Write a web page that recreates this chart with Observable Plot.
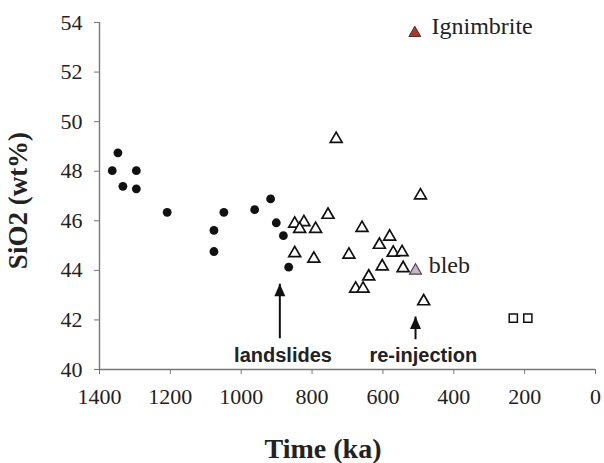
<!DOCTYPE html>
<html>
<head>
<meta charset="utf-8">
<script src="https://cdn.jsdelivr.net/npm/d3@7"></script>
<script src="https://cdn.jsdelivr.net/npm/@observablehq/plot@0.6"></script>
<style>body{margin:0;background:#fff;}</style>
</head>
<body>
<div id="chart"></div>
<script>
// Axis ticks
const xTicks = [1400, 1200, 1000, 800, 600, 400, 200, 0];
const yTicks = [40, 42, 44, 46, 48, 50, 52, 54];

// Filled circles
const circleAge  = [1364, 1348, 1334, 1296, 1296, 1209, 1077, 1077, 1049, 962, 917, 901, 881, 866];
const circleSiO2 = [48.02, 48.74, 47.39, 48.02, 47.29, 46.34, 45.61, 44.76, 46.34, 46.45, 46.88, 45.92, 45.40, 44.13];

// Open triangles
const triAge  = [732, 849, 823, 835, 790, 755, 849, 795, 494, 659, 581, 610, 571, 546, 696, 602, 543, 640, 677, 656, 485];
const triSiO2 = [49.30, 45.88, 45.94, 45.67, 45.67, 46.24, 44.69, 44.47, 47.02, 45.71, 45.36, 45.03, 44.71, 44.73, 44.63, 44.16, 44.09, 43.75, 43.26, 43.26, 42.75];

// Open squares
const squareAge  = [232, 191];
const squareSiO2 = [42.07, 42.07];

// Special samples
const blebAge = [508], blebSiO2 = [43.99];
const ignAge = [510], ignSiO2 = [53.57];

// Arrows
const arrowAge  = [891, 508];
const arrowFrom = [41.26, 41.22];
const arrowTo   = [43.46, 42.14];

// Annotation labels
const arrowLabels    = ["landslides", "re-injection"];
const arrowLabelAge  = [882, 486];
const arrowLabelSiO2 = [40.29, 40.29];
const sampleLabels    = ["bleb", "Ignimbrite"];
const sampleLabelAge  = [471, 463];
const sampleLabelSiO2 = [43.89, 53.54];

const SERIF = "'Liberation Serif', 'Times New Roman', Times, Tinos, serif";
const SANS = "'Liberation Sans', Arial, Helvetica, Arimo, sans-serif";

const zip = (xs, ys) => xs.map((x, i) => ({age: x, sio2: ys[i]}));
const circles = zip(circleAge, circleSiO2);
const tris = zip(triAge, triSiO2);
const squares = zip(squareAge, squareSiO2);
const bleb = zip(blebAge, blebSiO2);
const ign = zip(ignAge, ignSiO2);
const arrows = arrowAge.map((a, i) => ({age: a, from: arrowFrom[i], to: arrowTo[i]}));
const aLabels = arrowLabels.map((t, i) => ({label: t, age: arrowLabelAge[i], sio2: arrowLabelSiO2[i]}));
const sLabels = sampleLabels.map((t, i) => ({label: t, age: sampleLabelAge[i], sio2: sampleLabelSiO2[i]}));

const arrowHead = {
  draw(ctx) { ctx.moveTo(0, 0); ctx.lineTo(5.5, 12.5); ctx.lineTo(-5.5, 12.5); ctx.closePath(); }
};

const chart = Plot.plot({
  width: 604,
  height: 463,
  marginLeft: 99,
  marginRight: 9,
  marginTop: 22,
  marginBottom: 94,
  x: {domain: [1400, 0]},
  y: {domain: [40, 54]},
  style: {background: "white", color: "#222", fontFamily: SERIF, fontSize: "22px", overflow: "visible"},
  marks: [
    Plot.ruleY([40], {stroke: "#777", strokeWidth: 1.4}),
    Plot.ruleX([1400], {stroke: "#777", strokeWidth: 1.4}),
    Plot.axisX(xTicks, {tickSize: 5, tickPadding: 14, tickFormat: "d", stroke: "#777", label: null, fontSize: 22, fontFamily: SERIF}),
    Plot.axisY(yTicks, {tickSize: 5, tickPadding: 12, stroke: "#777", label: null, fontSize: 22, fontFamily: SERIF}),
    Plot.link(arrows, {x1: "age", x2: "age", y1: "from", y2: "to", stroke: "#111", strokeWidth: 2}),
    Plot.dot(arrows, {x: "age", y: "to", symbol: arrowHead, fill: "#111", stroke: "none", r: 5}),
    Plot.dot(circles, {x: "age", y: "sio2", r: 4.4, fill: "#111", stroke: "none"}),
    Plot.dot(tris, {x: "age", y: "sio2", symbol: "triangle", r: 4.4, fill: "white", stroke: "#111", strokeWidth: 1.7}),
    Plot.dot(squares, {x: "age", y: "sio2", symbol: "square", r: 4.6, fill: "white", stroke: "#111", strokeWidth: 1.5}),
    Plot.dot(bleb, {x: "age", y: "sio2", symbol: "triangle", r: 4.4, fill: "#c9b3cf", stroke: "#444", strokeWidth: 1.2}),
    Plot.dot(ign, {x: "age", y: "sio2", symbol: "triangle", r: 4.4, fill: "#b8322a", stroke: "#333", strokeWidth: 1}),
    Plot.text(aLabels, {x: "age", y: "sio2", text: "label", fontFamily: SANS, fontWeight: "bold", fontSize: 20, lineAnchor: "bottom", fill: "#222"}),
    Plot.text(sLabels, {x: "age", y: "sio2", text: "label", fontFamily: SERIF, fontSize: 24, textAnchor: "start", lineAnchor: "bottom", fill: "#222"}),
    Plot.text(["Time (ka)"], {frameAnchor: "bottom", textAnchor: "middle", dx: -24.5, dy: 88, text: d => d, fontFamily: SERIF, fontWeight: "bold", fontSize: 28, lineAnchor: "bottom", fill: "#222"}),
    Plot.text(["SiO2 (wt%)"], {frameAnchor: "left", textAnchor: "middle", dx: -81, dy: 4.5, rotate: -90, text: d => d, fontFamily: SERIF, fontWeight: "bold", fontSize: 27, lineAnchor: "middle", fill: "#222"})
  ]
});
document.getElementById("chart").appendChild(chart);
</script>
</body>
</html>
